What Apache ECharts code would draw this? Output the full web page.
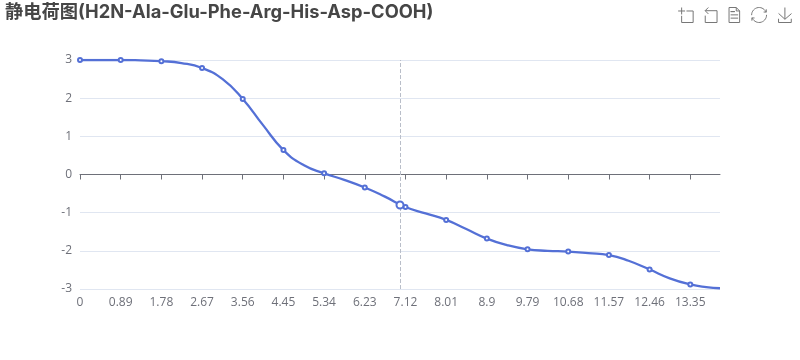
<!DOCTYPE html>
<html><head><meta charset="utf-8">
<style>html,body{margin:0;padding:0;background:#fff}#c{width:800px;height:360px}</style>
<script src="https://cdn.jsdelivr.net/npm/echarts@6/dist/echarts.min.js"></script>
</head><body><div id="c"></div>
<script>
const titleText = '静电荷图(H2N-Ala-Glu-Phe-Arg-His-Asp-COOH)';
const ph = [0,0.89,1.78,2.67,3.56,4.45,5.34,6.23,7.12,8.01,8.9,9.79,10.68,11.57,12.46,13.35];
const charge = [3,3,2.97,2.79,1.98,0.64,0.03,-0.34,-0.85,-1.19,-1.68,-1.96,-2.02,-2.11,-2.49,-2.88];
const betweenPh = [1.33,2.22,3.12,4.0,4.9,5.78,6.67,7.56,8.45,9.34,10.23,11.12,12.0,12.9,13.7,14];
const betweenCharge = [2.99,2.92,2.5,1.3,0.24,-0.14,-0.58,-1.02,-1.43,-1.85,-2.0,-2.06,-2.26,-2.72,-2.95,-2.98];
const hoverPh = 7;
const hoverCharge = -0.8;
const blue = '#5470d6';
const font = '"Open Sans","Noto Sans CJK SC",sans-serif';
const titleFont = 'Inter,"Noto Sans CJK SC",sans-serif';
const data = ph.map((x,i)=>[x,charge[i]])
  .concat(betweenPh.map((x,i)=>({value:[x,betweenCharge[i]],symbol:'none'})))
  .sort((a,b)=>(a.value||a)[0]-(b.value||b)[0]);
const common = {type:'value',min:0,max:14,position:'bottom',splitLine:{show:false}};
const chart = echarts.init(document.getElementById('c'),null,{renderer:'canvas'});
chart.setOption({
  animation:false,
  title:{text:titleText,left:0,top:-2,textStyle:{fontSize:18.3,fontWeight:'bold',color:'#464646',fontFamily:titleFont}},
  toolbox:{show:true,itemSize:15,itemGap:7,right:-9,top:-10,iconStyle:{borderColor:'#777'},
    feature:{dataZoom:{yAxisIndex:'none'},dataView:{},restore:{},saveAsImage:{}}},
  grid:{left:80,right:80,top:60,bottom:71},
  xAxis:[
    Object.assign({},common,{axisLine:{show:false,onZero:false},axisTick:{show:false},
      axisLabel:{color:'#6E7079',fontSize:12,fontFamily:font,customValues:ph,formatter:v=>String(v)}}),
    Object.assign({},common,{axisLine:{show:true,onZero:true,lineStyle:{color:'#6E7079'}},
      axisTick:{show:true,length:5,customValues:ph,lineStyle:{color:'#6E7079'}},axisLabel:{show:false}})
  ],
  yAxis:{type:'value',min:-3,max:3,interval:1,axisLine:{show:false},axisTick:{show:false},
    axisLabel:{color:'#6E7079',fontSize:12,fontFamily:font},splitLine:{lineStyle:{color:'#E0E6F1'}}},
  series:[
    {type:'line',smooth:0.5,showAllSymbol:true,symbol:'emptyCircle',symbolSize:4,xAxisIndex:0,data:data,
      lineStyle:{color:blue,width:2.3},itemStyle:{color:blue,borderWidth:2},
      markLine:{silent:true,symbol:'none',label:{show:false},data:[{xAxis:hoverPh}],lineStyle:{color:'#B9BEC9',type:'dashed',width:1}}},
    {type:'scatter',symbol:'emptyCircle',symbolSize:7,xAxisIndex:0,z:5,data:[[hoverPh,hoverCharge]],
      itemStyle:{color:blue,borderWidth:1.6,opacity:1}}
  ]
});
</script></body></html>
